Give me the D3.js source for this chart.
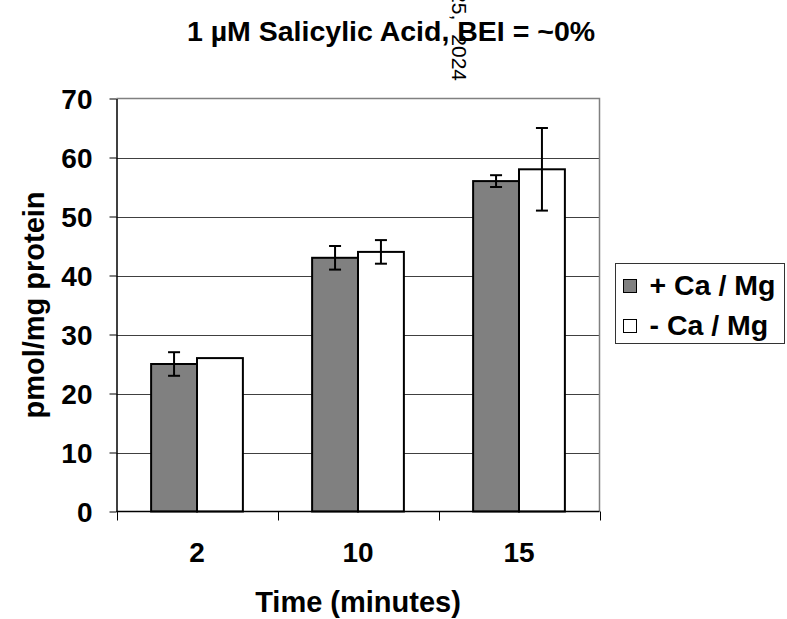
<!DOCTYPE html>
<html><head><meta charset="utf-8">
<script src="https://cdn.jsdelivr.net/npm/d3@7"></script>
<style>
body{margin:0;background:#fff}
svg{display:block}
text{font-family:"Liberation Sans",Arial,sans-serif;font-weight:bold;fill:#000}
</style>
</head><body>
<svg id="chart" width="787" height="619"></svg>
<script>
// Uptake data (pmol/mg protein) per incubation time
const categories = ["2", "10", "15"];
const seriesNames = ["+ Ca / Mg", "- Ca / Mg"];
const withCaMg = [25, 43, 56];
const withoutCaMg = [26, 44, 58];
const errWithCaMg = [2, 2, 1];
const errWithoutCaMg = [0, 2, 7];
const yTicks = [0, 10, 20, 30, 40, 50, 60, 70];
const seriesFill = ["#808080", "#ffffff"];

const svg = d3.select("#chart");
const plot = {left: 116.5, right: 599.5, top: 98.5, bottom: 511.5};

const x = d3.scaleBand().domain(categories)
  .range([plot.left, plot.right]).paddingInner(0.43).paddingOuter(0.215);
const xs = d3.scaleBand().domain([0, 1]).range([0, x.bandwidth()]);
const y = d3.scaleLinear().domain([0, 70]).range([plot.bottom, plot.top]);

// Title
svg.append("text").attr("x", 391).attr("y", 41).attr("text-anchor", "middle")
  .style("font-size", "28.5px").text("1 \u00b5M Salicylic Acid, BEI = ~0%");

// Gridlines
svg.append("g").selectAll("line").data(yTicks.filter(t => t > 0 && t < 70)).join("line")
  .attr("x1", plot.left).attr("x2", plot.right)
  .attr("y1", d => Math.round(y(d)) + 0.5).attr("y2", d => Math.round(y(d)) + 0.5)
  .attr("stroke", "#404040").attr("stroke-width", 1);

// Plot frame (top and right)
svg.append("path")
  .attr("d", `M${plot.left},${plot.top}H${plot.right}V${plot.bottom}`)
  .attr("fill", "none").attr("stroke", "#808080").attr("stroke-width", 1.5);

// Bars
const rows = categories.map((c, i) => ({
  cat: c,
  vals: [
    {s: 0, v: withCaMg[i], e: errWithCaMg[i]},
    {s: 1, v: withoutCaMg[i], e: errWithoutCaMg[i]}
  ]
}));
const groups = svg.append("g").selectAll("g").data(rows).join("g")
  .attr("transform", d => `translate(${x(d.cat)},0)`);
groups.selectAll("rect").data(d => d.vals).join("rect")
  .attr("x", d => xs(d.s)).attr("width", xs.bandwidth())
  .attr("y", d => y(d.v)).attr("height", d => y(0) - y(d.v))
  .attr("fill", d => seriesFill[d.s]).attr("stroke", "#000").attr("stroke-width", 2);

// Error bars
const cap = 6;
const eb = groups.selectAll("g.err").data(d => d.vals.filter(v => v.e > 0)).join("g")
  .attr("class", "err")
  .attr("transform", d => `translate(${xs(d.s) + xs.bandwidth() / 2},0)`);
eb.append("line").attr("x1", 0).attr("x2", 0)
  .attr("y1", d => y(d.v + d.e)).attr("y2", d => y(d.v - d.e))
  .attr("stroke", "#000").attr("stroke-width", 2);
eb.append("line").attr("x1", -cap).attr("x2", cap)
  .attr("y1", d => y(d.v + d.e)).attr("y2", d => y(d.v + d.e))
  .attr("stroke", "#000").attr("stroke-width", 2);
eb.append("line").attr("x1", -cap).attr("x2", cap)
  .attr("y1", d => y(d.v - d.e)).attr("y2", d => y(d.v - d.e))
  .attr("stroke", "#000").attr("stroke-width", 2);

// Y axis
const yAxis = svg.append("g").attr("transform", `translate(${plot.left},0)`)
  .call(d3.axisLeft(y).tickValues(yTicks).tickSize(7).tickPadding(17).tickSizeOuter(0));
yAxis.select(".domain").attr("stroke", "#000").attr("stroke-width", 1.5);
yAxis.selectAll(".tick line").attr("stroke", "#000");
yAxis.selectAll(".tick text").style("font-size", "28px").attr("fill", "#000")
  .attr("font-family", null).attr("dy", "0.36em");

// X axis: ticks at category boundaries
const bounds = [plot.left].concat(categories.map(c => x(c) + x.bandwidth() + x.step() * 0.43 / 2));
const xAxis = svg.append("g");
xAxis.append("line").attr("x1", plot.left).attr("x2", plot.right)
  .attr("y1", plot.bottom).attr("y2", plot.bottom).attr("stroke", "#000").attr("stroke-width", 1.5);
xAxis.selectAll("line.tk").data(bounds).join("line").attr("class", "tk")
  .attr("x1", d => Math.round(d) + 0.5).attr("x2", d => Math.round(d) + 0.5)
  .attr("y1", plot.bottom).attr("y2", plot.bottom + 9).attr("stroke", "#000");
xAxis.selectAll("text").data(categories).join("text")
  .attr("x", d => x(d) + x.bandwidth() / 2).attr("y", 562)
  .attr("text-anchor", "middle").style("font-size", "28px").text(d => d);

// Axis titles
svg.append("text").attr("x", (plot.left + plot.right) / 2).attr("y", 612)
  .attr("text-anchor", "middle").style("font-size", "29px").text("Time (minutes)");
svg.append("text").attr("transform", `translate(44,${(plot.top + plot.bottom) / 2}) rotate(-90)`)
  .attr("text-anchor", "middle").style("font-size", "29px").text("pmol/mg protein");

// Legend
const lg = svg.append("g").attr("transform", "translate(615.5,263.5)");
lg.append("rect").attr("width", 169).attr("height", 80)
  .attr("fill", "#fff").attr("stroke", "#333").attr("stroke-width", 1);
const li = lg.selectAll("g.item").data(seriesNames).join("g").attr("class", "item")
  .attr("transform", (d, i) => `translate(8,${16 + i * 40})`);
li.append("rect").attr("width", 13).attr("height", 13)
  .attr("fill", (d, i) => seriesFill[i]).attr("stroke", "#000").attr("stroke-width", 1);
li.append("text").attr("x", 26).attr("y", 15).style("font-size", "28.5px").text(d => d);

// Date stamp, running down the page
const stamp = svg.append("text").attr("transform", "translate(452,81) rotate(90)")
  .attr("text-anchor", "end").style("font-size", "21px").style("font-weight", "normal");
stamp.append("tspan").text("25,");
stamp.append("tspan").attr("dx", 14).text("2024");
</script>
</body></html>
